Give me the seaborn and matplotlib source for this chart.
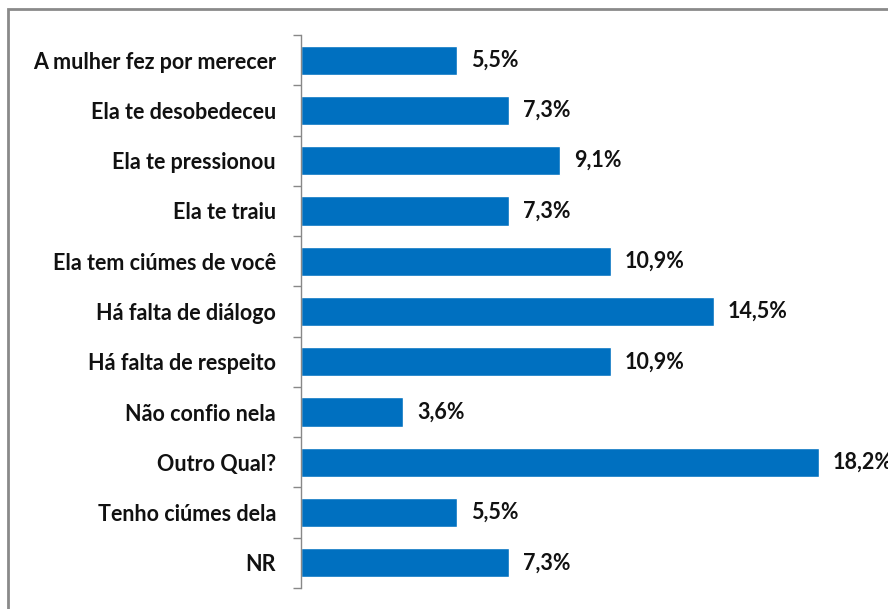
import matplotlib
matplotlib.use("Agg")
import matplotlib.pyplot as plt
import seaborn as sns
import pandas as pd
from matplotlib.patches import Rectangle

# categories and values
categorias = ["A mulher fez por merecer", "Ela te desobedeceu", "Ela te pressionou",
              "Ela te traiu", "Ela tem ciúmes de você", "Há falta de diálogo",
              "Há falta de respeito", "Não confio nela", "Outro Qual?",
              "Tenho ciúmes dela", "NR"]
valores = [5.5, 7.3, 9.1, 7.3, 10.9, 14.5, 10.9, 3.6, 18.2, 5.5, 7.3]
rotulos = ["5,5%", "7,3%", "9,1%", "7,3%", "10,9%", "14,5%", "10,9%", "3,6%", "18,2%", "5,5%", "7,3%"]

df = pd.DataFrame({"cat": categorias, "val": valores})

sns.set_style("white")
plt.rcParams['font.family'] = ['Lato', 'DejaVu Sans']

W, H = 888, 609
fig = plt.figure(figsize=(W / 100, H / 100), dpi=100)

# axes placed in pixel terms
left, right, top, bottom = 301, 870, 35, 588
ax = fig.add_axes([left / W, 1 - bottom / H, (right - left) / W, (bottom - top) / H])

sns.barplot(data=df, y="cat", x="val", orient="h", color="#0070C0",
            saturation=1, width=0.58, ax=ax)

ax.set_xlim(0, 20)
ax.set_ylim(len(categorias) - 0.5, -0.5)
ax.set_xlabel("")
ax.set_ylabel("")
ax.set_xticks([])

# ticks between categories on the left spine
ax.set_yticks([i - 0.5 for i in range(len(categorias) + 1)], minor=True)
ax.tick_params(axis="y", which="minor", left=True, length=6, color="#888888", width=1)
ax.tick_params(axis="y", which="major", left=False, length=0, pad=18)
ax.set_yticklabels(categorias, fontsize=15.5, fontweight="bold", color="#111111")

for s in ["top", "right", "bottom"]:
    ax.spines[s].set_visible(False)
ax.spines["left"].set_color("#888888")
ax.spines["left"].set_linewidth(1)

for i, (v, t) in enumerate(zip(valores, rotulos)):
    ax.annotate(t, (v, i), xytext=(14, 0), textcoords="offset pixels",
                va="center", ha="left", fontsize=15.5, fontweight="bold", color="#111111",
                annotation_clip=False)

# outer chart frame (right and bottom edges fall outside the picture)
fig.patches.append(Rectangle((8 / W, -0.05), 1.0, 1 - 9 / H + 0.05, transform=fig.transFigure,
                             fill=False, edgecolor="#8a8a8a", linewidth=2, clip_on=False))

fig.savefig("out.png", dpi=100)
